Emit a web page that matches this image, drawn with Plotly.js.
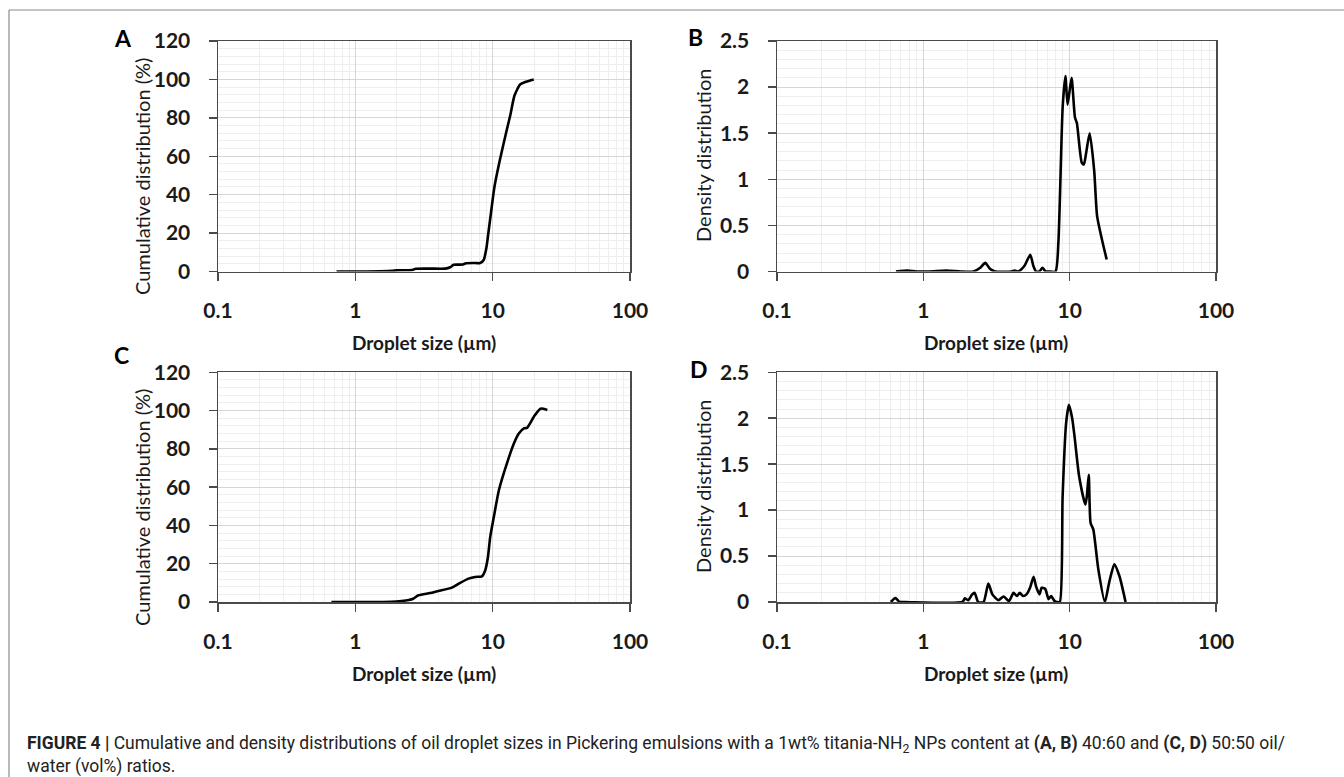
<!DOCTYPE html>
<html>
<head>
<meta charset="utf-8">
<script src="https://cdn.plot.ly/plotly-3.0.1.min.js"></script>
<style>
  html, body { margin: 0; padding: 0; background: #ffffff; }
  #chart { width: 1344px; height: 777px; }
</style>
</head>
<body>
<div id="chart"></div>
<script>
// ---- Data ----
// Panel A: cumulative distribution, 40:60 oil/water
const xA = [0.73, 1.0, 1.5, 1.85, 2.0, 2.6, 2.75, 3.5, 4.5, 4.9, 5.2, 6.0, 6.4, 7.5, 8.1, 8.6, 9.0, 9.3, 9.7, 10.3, 11.2, 12.5, 13.5, 14.4, 15.9, 17.5, 19.9];
const yA = [0, 0, 0.1, 0.3, 0.6, 0.8, 1.4, 1.5, 1.5, 2.2, 3.5, 3.6, 4.3, 4.4, 4.4, 6, 12, 20, 30, 44, 57, 72, 82, 91.5, 97.5, 98.8, 100];

// Panel B: density distribution, 40:60 oil/water
const xB = [0.65, 0.78, 0.9, 1.1, 1.44, 1.8, 2.2, 2.45, 2.65, 2.85, 3.1, 4.0, 4.2, 4.45, 4.9, 5.38, 5.65, 5.9, 6.2, 6.53, 6.85, 7.2, 8.0, 8.37, 8.96, 9.35, 9.68, 10.3, 10.87, 11.2, 12.1, 12.5, 13.0, 13.7, 14.7, 15.4, 16.6, 17.9];
const yB = [0, 0.01, 0, 0, 0.01, 0, 0, 0.04, 0.094, 0.03, 0, 0, 0.01, 0, 0.06, 0.18, 0.06, 0, 0, 0.04, 0, 0, 0, 0.31, 1.79, 2.12, 1.81, 2.10, 1.67, 1.61, 1.18, 1.16, 1.3, 1.5, 1.1, 0.6, 0.35, 0.13];

// Panel C: cumulative distribution, 50:50 oil/water
const xC = [0.67, 1.0, 1.5, 1.83, 2.17, 2.45, 2.64, 2.88, 3.5, 4.03, 5.04, 5.8, 6.67, 7.46, 8.35, 8.83, 9.24, 9.6, 10.2, 11.1, 12.7, 14.3, 15.5, 16.9, 17.8, 19.95, 22.3, 25];
const yC = [0, 0, 0, 0.1, 0.5, 1.0, 1.7, 3.5, 4.7, 5.8, 7.5, 10, 12.2, 13.1, 13.4, 16.6, 23.5, 34, 44.5, 58.4, 72.4, 82.9, 88, 90.7, 91, 96.8, 101, 100.3];

// Panel D: density distribution, 50:50 oil/water
const xD = [0.6, 0.644, 0.69, 0.75, 1.85, 1.92, 2.03, 2.15, 2.24, 2.37, 2.58, 2.78, 2.97, 3.26, 3.54, 3.85, 4.13, 4.36, 4.56, 4.8, 5.07, 5.36, 5.67, 5.89, 6.22, 6.43, 6.8, 7.18, 7.47, 7.89, 8.2, 8.56, 8.95, 9.46, 9.89, 10.4, 10.8, 11.6, 12.8, 13.1, 13.5, 13.9, 14.5, 15.7, 17.4, 18.6, 20.2, 21.9, 24.1];
const yD = [0, 0.043, 0, 0, 0, 0.04, 0.02, 0.08, 0.1, 0, 0, 0.2, 0.08, 0.02, 0.06, 0.01, 0.1, 0.065, 0.1, 0.065, 0.083, 0.155, 0.275, 0.17, 0.083, 0.155, 0.145, 0.03, 0.065, 0.01, 0, 0, 1.15, 1.95, 2.145, 2.0, 1.8, 1.37, 1.06, 1.15, 1.385, 0.86, 0.79, 0.355, 0, 0.21, 0.41, 0.28, 0];

const xTitle = 'Droplet size (µm)';
const yTitleCum = 'Cumulative distribution (%)';
const yTitleDen = 'Density distribution';
const panelLetters = ['A', 'B', 'C', 'D'];
const captionLine1 = '<b>FIGURE 4 |</b> Cumulative and density distributions of oil droplet sizes in Pickering emulsions with a 1wt% titania-NH<sub>2</sub> NPs content at <b>(A, B)</b> 40:60 and <b>(C, D)</b> 50:50 oil/';
const captionLine2 = 'water (vol%) ratios.';

// ---- Layout helpers ----
const W = 1344, H = 777;
const px = v => v / W;
const py = v => 1 - v / H;

const tickFont = { family: 'Lato, "Open Sans", sans-serif', size: 21, color: '#1a1a1a', weight: 'bold' };
const AXC = '#4a4a4a';

function xaxis(l, r, anchor) {
  return {
    type: 'log', range: [-1, 2], domain: [px(l), px(r)], anchor: anchor,
    dtick: 1, showgrid: true, gridcolor: '#d6d6d6', gridwidth: 1,
    minor: { dtick: 'D1', showgrid: true, gridcolor: '#eeeeee', gridwidth: 1, ticks: '' },
    showline: true, linecolor: AXC, linewidth: 1.5, mirror: true,
    ticks: 'outside', ticklen: 8, tickwidth: 1.5, tickcolor: AXC,
    tickfont: tickFont, ticklabelstandoff: 12,
    zeroline: false, fixedrange: true
  };
}
function yaxis(t, b, anchor, maxv, dt, mdt) {
  return {
    range: [0, maxv], domain: [py(b), py(t)], anchor: anchor,
    dtick: dt, tick0: 0, showgrid: true, gridcolor: '#d6d6d6', gridwidth: 1,
    minor: { dtick: mdt, tick0: 0, showgrid: true, gridcolor: '#eeeeee', gridwidth: 1, ticks: '' },
    showline: true, linecolor: AXC, linewidth: 1.5, mirror: true,
    ticks: 'outside', ticklen: 8, tickwidth: 1.5, tickcolor: AXC,
    tickfont: tickFont, ticklabelstandoff: 14,
    zeroline: false, fixedrange: true
  };
}

const lineStyle = { color: '#000000', width: 2.6, shape: 'spline', smoothing: 0.6 };
function tr(x, y, xa, ya) {
  return { x: x, y: y, xaxis: xa, yaxis: ya, type: 'scatter', mode: 'lines', line: lineStyle, hoverinfo: 'skip' };
}

const data = [
  tr(xA, yA, 'x', 'y'),
  tr(xB, yB, 'x2', 'y2'),
  tr(xC, yC, 'x3', 'y3'),
  tr(xD, yD, 'x4', 'y4')
];

const leftL = 218, leftR = 630, rightL = 777, rightR = 1216;
const topT = 41, topB = 271.5, botT = 372.3, botB = 602;

const titleFont = { family: 'Lato, "Open Sans", sans-serif', size: 20, color: '#1a1a1a' };
const xTitleFont = { family: 'Lato, "Open Sans", sans-serif', size: 19, color: '#1a1a1a', weight: 'bold' };
const letterFont = { family: 'Lato, "Open Sans", sans-serif', size: 23, color: '#000000', weight: 'bold' };
const capFont = { family: 'Roboto, sans-serif', size: 17.5, color: '#222222' };

function ann(text, x, y, font, opts) {
  return Object.assign({ text: text, x: px(x), y: py(y), xref: 'paper', yref: 'paper', showarrow: false, font: font, xanchor: 'center', yanchor: 'middle' }, opts || {});
}

const annotations = [
  ann(panelLetters[0], 123, 38, letterFont),
  ann(panelLetters[1], 695, 37, letterFont),
  ann(panelLetters[2], 121, 355, letterFont),
  ann(panelLetters[3], 699, 369, letterFont),
  ann(yTitleCum, 142, 177, titleFont, { textangle: -90 }),
  ann(yTitleDen, 703, 156, titleFont, { textangle: -90 }),
  ann(yTitleCum, 142, 508, titleFont, { textangle: -90 }),
  ann(yTitleDen, 703, 487, titleFont, { textangle: -90 }),
  ann(xTitle, (leftL + leftR) / 2, 342, xTitleFont),
  ann(xTitle, (rightL + rightR) / 2, 342, xTitleFont),
  ann(xTitle, (leftL + leftR) / 2, 673, xTitleFont),
  ann(xTitle, (rightL + rightR) / 2, 673, xTitleFont),
  ann(captionLine1, 25, 744, capFont, { xanchor: 'left' }),
  ann(captionLine2, 25, 766, capFont, { xanchor: 'left' })
];

const shapes = [
  { type: 'line', xref: 'paper', yref: 'paper', x0: px(9), x1: 1, y0: py(10), y1: py(10), line: { color: '#8a8a8a', width: 1.2 } },
  { type: 'line', xref: 'paper', yref: 'paper', x0: px(9), x1: px(9), y0: py(10), y1: 0, line: { color: '#8a8a8a', width: 1.2 } }
];

const layout = {
  width: W, height: H, margin: { l: 0, r: 0, t: 0, b: 0, pad: 0 },
  paper_bgcolor: '#ffffff', plot_bgcolor: '#ffffff', showlegend: false,
  xaxis: xaxis(leftL, leftR, 'y'),
  yaxis: yaxis(topT, topB, 'x', 120, 20, 4),
  xaxis2: xaxis(rightL, rightR, 'y2'),
  yaxis2: yaxis(topT, topB, 'x2', 2.5, 0.5, 0.1),
  xaxis3: xaxis(leftL, leftR, 'y3'),
  yaxis3: yaxis(botT, botB, 'x3', 120, 20, 4),
  xaxis4: xaxis(rightL, rightR, 'y4'),
  yaxis4: yaxis(botT, botB, 'x4', 2.5, 0.5, 0.1),
  annotations: annotations,
  shapes: shapes
};

Plotly.newPlot('chart', data, layout, { displayModeBar: false, staticPlot: true });
</script>
</body>
</html>
